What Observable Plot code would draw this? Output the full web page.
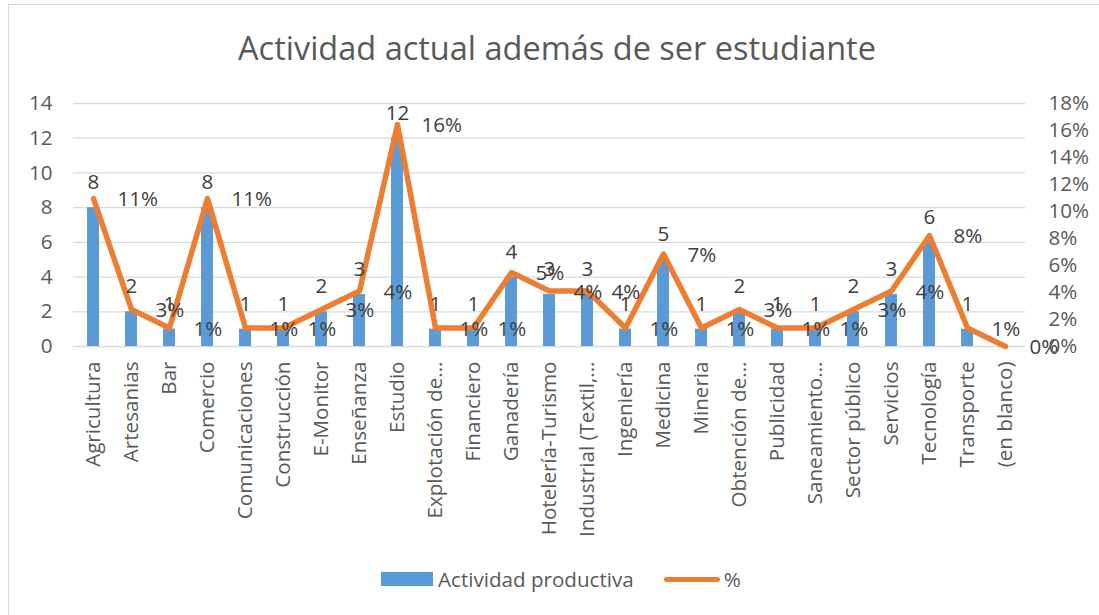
<!DOCTYPE html>
<html>
<head>
<meta charset="utf-8">
<script src="https://cdn.jsdelivr.net/npm/d3@7"></script>
<script src="https://cdn.jsdelivr.net/npm/@observablehq/plot@0.6"></script>
<style>
  body { margin: 0; background: #fff; font-family: "Open Sans", sans-serif; }
  #wrap { position: relative; width: 1099px; height: 615px; overflow: hidden; background: #fff; }
  #frame { position: absolute; left: 8px; top: 4px; width: 1140px; height: 660px; border: 1.5px solid #d9d9d9; box-sizing: border-box; pointer-events: none; }
  #title { padding-top: 28px; height: 40px; line-height: 40px; font-size: 32.5px; color: #595959; text-align: center; padding-left: 15px; white-space: nowrap; }
  #chart svg { display: block; }
  #legend { margin-top: 7px; padding-left: 381px; height: 24px; display: flex; align-items: center; font-size: 20.6px; color: #595959; white-space: nowrap; }
  #legend .sw { width: 52px; height: 14px; background: #5B9BD5; margin-right: 5px; }
  #legend .ln { width: 56px; height: 5px; border-radius: 3px; background: #ED7D31; margin-left: 30px; margin-right: 4px; }
</style>
</head>
<body>
<div id="wrap">
  <div id="frame"></div>
  <div id="title"></div>
  <div id="chart"></div>
  <div id="legend"></div>
</div>
<script>
const titleText = "Actividad actual además de ser estudiante";
const categories = [
  "Agricultura", "Artesanias", "Bar", "Comercio", "Comunicaciones", "Construcción",
  "E-Monitor", "Enseñanza", "Estudio", "Explotación de...", "Financiero", "Ganadería",
  "Hotelería-Turismo", "Industrial (Textil,...", "Ingeniería", "Medicina", "Mineria",
  "Obtención de...", "Publicidad", "Saneamiento...", "Sector público", "Servicios",
  "Tecnología", "Transporte", "(en blanco)"
];
const counts = [8, 2, 1, 8, 1, 1, 2, 3, 12, 1, 1, 4, 3, 3, 1, 5, 1, 2, 1, 1, 2, 3, 6, 1, null];
const percents = [10.96, 2.74, 1.37, 10.96, 1.37, 1.37, 2.74, 4.11, 16.44, 1.37, 1.37, 5.48,
  4.11, 4.11, 1.37, 6.85, 1.37, 2.74, 1.37, 1.37, 2.74, 4.11, 8.22, 1.37, 0];
const leftTicks = [0, 2, 4, 6, 8, 10, 12, 14];
const rightTicks = [0, 2, 4, 6, 8, 10, 12, 14, 16, 18];
const seriesNames = ["Actividad productiva", "%"];

const barColor = "#5B9BD5";
const lineColor = "#ED7D31";
const k = 14 / 18; // right axis (0–18%) mapped onto left axis (0–14)

const data = categories.map((c, i) => ({ c, n: counts[i], p: percents[i] }));

document.getElementById("title").textContent = titleText;

const chart = Plot.plot({
  width: 1099,
  height: 492,
  marginTop: 35,
  marginBottom: 214,
  marginLeft: 73,
  marginRight: 74,
  style: { fontFamily: '"Open Sans", sans-serif', fontSize: "20.6px", color: "#595959", background: "transparent", overflow: "visible" },
  x: { domain: categories, paddingInner: 0.68, paddingOuter: 0.34, align: 0.5, label: null },
  y: { domain: [0, 14], label: null },
  marks: [
    Plot.ruleY(leftTicks, { stroke: "#d9d9d9", strokeWidth: 1.3 }),
    Plot.barY(data, { x: "c", y: "n", fill: barColor }),
    Plot.line(data, { x: "c", y: d => d.p * k, stroke: lineColor, strokeWidth: 5.5, strokeLinejoin: "round", strokeLinecap: "round" }),
    Plot.text(data.filter(d => d.n != null), { x: "c", y: "n", text: d => String(d.n), dy: -25, fill: "#404040" }),
    Plot.text(data, { x: "c", y: d => d.p * k, text: d => Math.round(d.p) + "%", textAnchor: "start", dx: 24, dy: 1, fill: "#404040" }),
    Plot.axisX({ tickRotate: -90, tickSize: 0, tickPadding: 15, label: null, fill: "#595959" }),
    Plot.axisY({ anchor: "left", ticks: leftTicks, tickSize: 0, tickPadding: 21, label: null, fill: "#595959" }),
    Plot.axisY({ anchor: "right", ticks: rightTicks.map(v => v * k), tickFormat: v => Math.round(v / k) + "%", tickSize: 0, tickPadding: 23, label: null, fill: "#595959" })
  ]
});
document.getElementById("chart").appendChild(chart);

const legend = document.getElementById("legend");
legend.innerHTML = `<span class="sw"></span><span>${seriesNames[0]}</span><span class="ln"></span><span>${seriesNames[1]}</span>`;
</script>
</body>
</html>
